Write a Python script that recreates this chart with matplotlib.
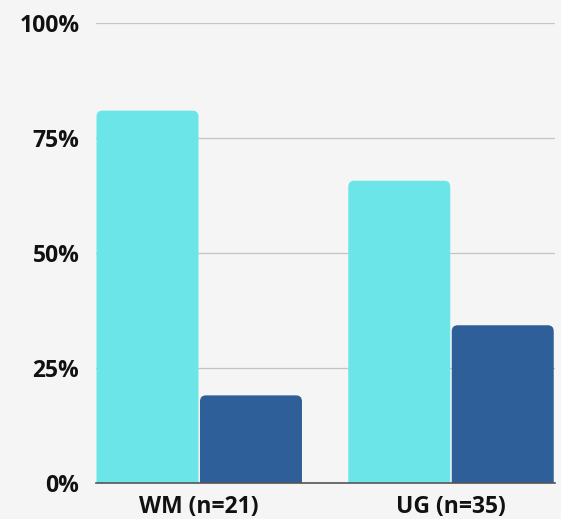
import matplotlib
matplotlib.use("Agg")
import matplotlib.pyplot as plt
from matplotlib.patches import FancyBboxPatch
import numpy as np

plt.rcParams['font.family'] = ['Open Sans', 'DejaVu Sans']

categories = ["WM (n=21)", "UG (n=35)"]
series_a = [80.95, 65.71]   # cyan
series_b = [19.05, 34.29]   # dark blue
yticks = [0, 25, 50, 75, 100]
ytick_labels = ["0%", "25%", "50%", "75%", "100%"]

colors = ["#6ce5e8", "#2e5f98"]
bg = "#f5f5f5"

W, H = 561, 519
fig = plt.figure(figsize=(W / 100, H / 100), dpi=100, facecolor=bg)
ax = fig.add_axes([96 / W, 1 - 483 / H, (555 - 96) / W, (483 - 23) / H], facecolor=bg)

x = np.arange(len(categories))
bw = 0.405
gap = 0.006
ax.set_xlim(-0.41, 1.413)
ax.set_ylim(0, 100)

px_x = ((555 - 96)) / (1.413 + 0.41)
px_y = (483 - 23) / 100
r_px = 6
rx = r_px / px_x
aspect = (r_px / px_y) / rx

for vals, col, off in [(series_a, colors[0], -(bw + gap) / 2), (series_b, colors[1], (bw + gap) / 2)]:
    for xi, v in zip(x, vals):
        left = xi + off - bw / 2
        bottom = -5
        p = FancyBboxPatch((left, bottom), bw, v - bottom,
                           boxstyle=f"round,pad=0,rounding_size={rx}",
                           mutation_aspect=aspect, facecolor=col, edgecolor="none",
                           zorder=3, clip_on=True)
        ax.add_patch(p)

ax.set_yticks(yticks)
ax.set_yticklabels(ytick_labels, fontsize=16.5, fontweight="bold", color="#111111")
ax.set_xticks(x)
ax.set_xticklabels(categories, fontsize=16.5, fontweight="bold", color="#111111")
ax.tick_params(axis="both", length=0)
ax.tick_params(axis="y", pad=12)
ax.tick_params(axis="x", pad=9)

ax.grid(axis="y", color="#c4c4c4", linewidth=0.9, zorder=0)
ax.set_axisbelow(True)
for s in ["top", "right", "left"]:
    ax.spines[s].set_visible(False)
ax.spines["bottom"].set_color("#555555")
ax.spines["bottom"].set_linewidth(1.2)
ax.spines["bottom"].set_zorder(4)

fig.savefig("out.png", dpi=100, facecolor=bg)
